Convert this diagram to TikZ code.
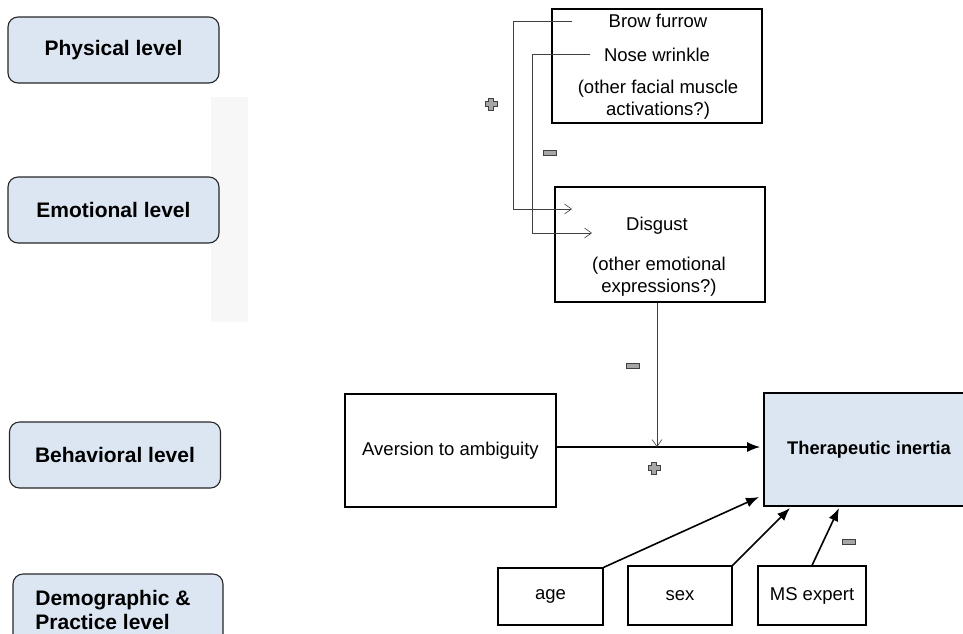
\documentclass[tikz,border=0pt]{standalone}
\usepackage{fontspec}
\setmainfont{Liberation Sans}
\usetikzlibrary{arrows.meta,positioning,calc}
\definecolor{lblue}{HTML}{DCE6F2}
\definecolor{lgray}{HTML}{F7F7F7}
\definecolor{mgray}{HTML}{A6A6A6}
\definecolor{dgray}{HTML}{404040}
\tikzset{
  levelbox/.style={draw=black!85, line width=1.1pt, fill=lblue, rounded corners=10pt,
    minimum width=211pt, minimum height=66pt, inner sep=0pt,
    font=\fontsize{21}{24}\selectfont\bfseries},
  bigbox/.style={draw=black, line width=1.6pt, minimum width=210pt, inner sep=0pt},
  smallbox/.style={draw=black, line width=1.2pt, inner sep=0pt,
    font=\fontsize{18.5}{22}\selectfont},
  txt/.style={inner sep=0pt, font=\fontsize{18.5}{22}\selectfont, align=center},
  thinarrow/.style={draw=dgray, line width=0.6pt, -{Straight Barb[length=7pt,width=10pt]}},
  thickarrow/.style={draw=black, line width=1.6pt, -{Latex[length=13pt,width=10pt]}},
  plusmark/.pic={\draw[fill=mgray, draw=dgray, line width=0.8pt]
     (-2.5,-6)--(2.5,-6)--(2.5,-2.5)--(6,-2.5)--(6,2.5)--(2.5,2.5)--(2.5,6)--(-2.5,6)--(-2.5,2.5)--(-6,2.5)--(-6,-2.5)--(-2.5,-2.5)--cycle;},
  minusmark/.pic={\draw[fill=mgray, draw=dgray, line width=0.8pt] (-6.5,-2.8) rectangle (6.5,2.8);}
}
\begin{document}
\begin{tikzpicture}[x=1pt,y=-1pt]
\useasboundingbox (0,0) rectangle (963,633);
\clip (0,0) rectangle (963,633);
% left panel
\fill[lgray] (211,97) rectangle (248,322);
\node[levelbox] (phys) at (113.5,50) {Physical level};
\node[levelbox] (emo) at (113.5,210) {Emotional level};
\node[levelbox] (beh) at (115,455) {Behavioral level};
\node[levelbox, minimum width=210pt, minimum height=72pt] (demo) at (118,610) {};
\node[inner sep=0pt, align=left, font=\fontsize{21}{24}\selectfont\bfseries] (demotxt) at (113,610) {Demographic \&\\Practice level};
% physical box
\node[bigbox, minimum height=114pt] (physbox) at (657,66) {};
\node[txt] (brow) at (658,21) {Brow furrow};
\node[txt] (nose) at (657,55) {Nose wrinkle};
\node[txt] (ofm) at (658,100) {(other facial muscle\\activations?)};
% disgust box
\node[bigbox, minimum height=115pt] (disgbox) at (660,244.5) {};
\node[txt] (disg) at (657,226) {Disgust};
\node[txt] (oee) at (659,277) {(other emotional\\expressions?)};
% behavioral
\node[bigbox, minimum width=211pt, minimum height=113pt, font=\fontsize{18.5}{22}\selectfont] (aver) at (450.5,450.5) {Aversion to ambiguity};
\node[bigbox, fill=lblue, minimum width=260pt, minimum height=113pt] (ther) at (894,449.5) {};
\node[inner sep=0pt, font=\fontsize{18.3}{22}\selectfont\bfseries] (thertxt) at (869,449.5) {Therapeutic inertia};
% demographic
\node[smallbox, minimum width=105pt, minimum height=57pt] (age) at (550.5,596.5) {age};
\node[smallbox, minimum width=104pt, minimum height=59pt] (sex) at (680,595.5) {sex};
\node[smallbox, minimum width=108pt, minimum height=59pt] (ms) at (812,595.5) {MS expert};
% connectors physical -> emotional
\coordinate (b1) at (572,21);
\coordinate (b2) at (572,209);
\coordinate (n1) at (590,54);
\coordinate (n2) at (592,233);
\draw[thinarrow] (b1) -- (513,21) |- (b2);
\draw[thinarrow] (n1) -- (532,54) |- (n2);
% main arrows
\coordinate (j) at (657,447);
\draw[thickarrow] (aver.east |- j) -- ($(ther.west |- j)+(-3,0)$);
\draw[thinarrow] (disgbox.south -| j) -- (j);
\coordinate (ta) at (759,497);
\coordinate (ts) at (790,508);
\coordinate (tm) at (839,508);
\draw[thickarrow] (age.north east) -- (ta);
\draw[thickarrow] (sex.north east) -- (ts);
\draw[thickarrow] (ms.north) -- (tm);
% signs
\pic at (491,104) {plusmark};
\pic at (550,153) {minusmark};
\pic at (633,366) {minusmark};
\pic at (654,468) {plusmark};
\pic at (849,542) {minusmark};
\end{tikzpicture}
\end{document}
